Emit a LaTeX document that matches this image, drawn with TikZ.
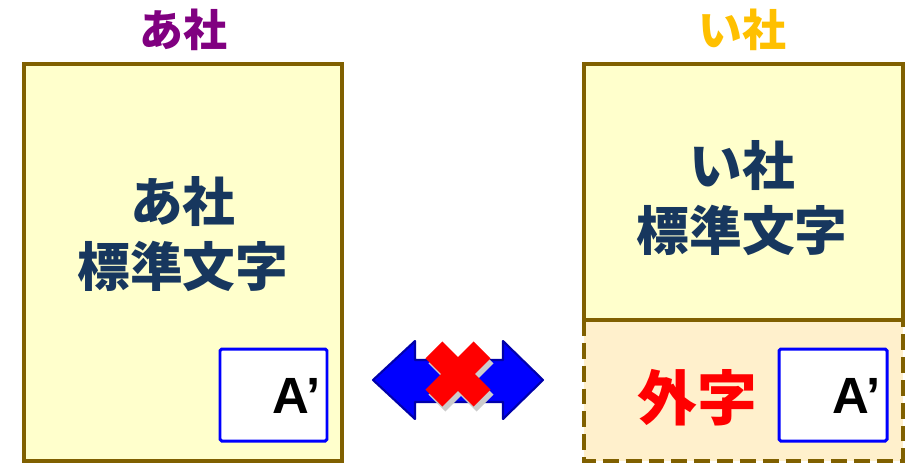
\documentclass[tikz,border=0pt]{standalone}
\usepackage{fontspec}
\setmainfont{Noto Sans CJK JP}
\newfontfamily\latin{Liberation Sans}
\definecolor{frame-olive}{RGB}{128, 96, 0}
\definecolor{light-yellow}{RGB}{255, 255, 204}
\definecolor{light-orange}{RGB}{255, 240, 204}
\definecolor{title-purple}{RGB}{128, 0, 128}
\definecolor{title-gold}{RGB}{255, 192, 0}
\definecolor{text-navy}{RGB}{23, 55, 94}
\definecolor{arrow-blue}{RGB}{0, 0, 255}
\definecolor{arrow-dark}{RGB}{0, 0, 170}

\begin{document}
\begin{tikzpicture}[
        x=0.02cm, y=-0.02cm,
        every node/.style={align=center, font=\bfseries},
        company/.style={font=\bfseries\fontsize{25}{25}\selectfont},
        charset/.style={text=text-navy, font=\bfseries\fontsize{30}{37}\selectfont},
        glyphbox/.style={draw=arrow-blue, line width=1.7pt, fill=white, rounded corners=1pt},
        glyph/.style={font=\latin\bfseries\fontsize{29}{29}\selectfont, anchor=east},
    ]
        \useasboundingbox (0,0) rectangle (910,464);
        % company boxes
        \draw[frame-olive, line width=2.3pt, fill=light-yellow] (24,64) rectangle (342,461);
        \draw[frame-olive, line width=2.3pt, fill=light-orange, dashed, dash pattern=on 9pt off 4pt] (584,320) rectangle (903,461);
        \draw[frame-olive, line width=2.3pt, fill=light-yellow] (584,64) rectangle (903,320);
        % titles
        \node[company, text=title-purple] (title-a) at (183,30) {あ社};
        \node[company, text=title-gold] (title-i) at (742,30) {い社};
        \node[charset] (std-a) at (183,234) {あ社\\標準文字};
        \node[charset] (std-i) at (742,198) {い社\\標準文字};
        \node[text=red, font=\bfseries\fontsize{34}{34}\selectfont] (gaiji) at (697,398) {外字};
        % glyph boxes
        \draw[glyphbox] (220,349) rectangle (327,441);
        \node[glyph] (glyph-a) at (327,396) {A’};
        \draw[glyphbox] (779,349) rectangle (887,441);
        \node[glyph] (glyph-i) at (887,396) {A’};
        % blocked exchange
        \draw[arrow-dark, line width=1.2pt, fill=arrow-blue, line join=round]
            (373,380) -- (415,341) -- (415,360) -- (503,360) -- (503,341) -- (543,380)
            -- (503,419) -- (503,402) -- (415,402) -- (415,419) -- cycle;
        \begin{scope}[shift={(458,374)}]
            \fill[black!20, shift={(3,5)}, rotate=45] (-34,-12) rectangle (34,12);
            \fill[black!20, shift={(3,5)}, rotate=-45] (-34,-12) rectangle (34,12);
            \fill[red, rotate=45] (-34,-12) rectangle (34,12);
            \fill[red, rotate=-45] (-34,-12) rectangle (34,12);
        \end{scope}
    \end{tikzpicture}
\end{document}
